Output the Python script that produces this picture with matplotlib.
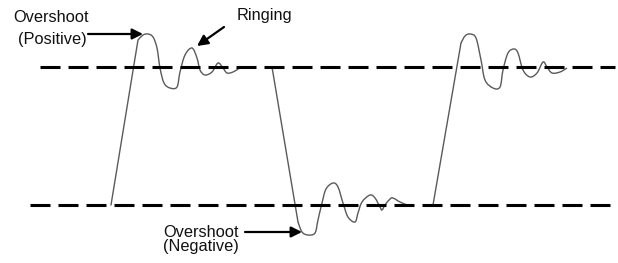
import matplotlib
matplotlib.use("Agg")
import matplotlib.pyplot as plt
from matplotlib.path import Path
from matplotlib.patches import PathPatch

# Reference levels (diagram units, y grows downward)
high_level = 67
low_level = 205
high_line_x = [40, 615]
low_line_x = [30, 610]

# Transition edges (straight)
edge1_x = [111, 138]
edge1_y = [205, 40]
edge2_x = [272, 298]
edge2_y = [67, 222]
edge3_x = [433, 461]
edge3_y = [205, 43]

# Ringing after each edge (smooth curves through these points)
ring1_x = [138, 143, 148, 153, 157, 160, 164, 170, 177, 180, 185, 192, 197, 200, 205, 212, 218, 223, 227, 233, 240, 245]
ring1_y = [40, 35, 34, 37, 48, 68, 83, 88, 87, 72, 55, 48, 58, 70, 75, 72, 63, 68, 73, 72, 68, 67]

ring2_x = [298, 302, 308, 315, 318, 322, 326, 333, 338, 343, 348, 355, 358, 362, 370, 375, 380, 382, 385, 390, 393, 400, 407]
ring2_y = [222, 232, 235, 233, 220, 203, 189, 183, 187, 203, 217, 222, 213, 202, 195, 198, 207, 210, 205, 199, 198, 202, 205]

ring3_x = [461, 465, 470, 476, 481, 485, 493, 500, 503, 508, 514, 518, 523, 530, 537, 543, 547, 552, 560, 567]
ring3_y = [43, 36, 34, 38, 60, 80, 88, 87, 70, 53, 49, 53, 70, 77, 73, 62, 67, 73, 72, 68]

# Annotations
labels = ["Overshoot", "(Positive)", "Ringing", "Overshoot", "(Negative)"]
label_x = [13, 18, 237, 163, 163]
label_y = [22, 44, 20, 237, 251]
arrows_tail = [(88, 34), (224, 27), (245, 232)]
arrows_head = [(143, 34), (197, 46), (302, 232)]


def smooth_path(xs, ys):
    pts = list(zip(xs, ys))
    n = len(pts)
    verts = [pts[0]]
    codes = [Path.MOVETO]
    for i in range(n - 1):
        p0 = pts[i - 1] if i > 0 else pts[i]
        p1 = pts[i]
        p2 = pts[i + 1]
        p3 = pts[i + 2] if i + 2 < n else pts[i + 1]
        c1 = (p1[0] + (p2[0] - p0[0]) / 6, p1[1] + (p2[1] - p0[1]) / 6)
        c2 = (p2[0] - (p3[0] - p1[0]) / 6, p2[1] - (p3[1] - p1[1]) / 6)
        verts += [c1, c2, p2]
        codes += [Path.CURVE4] * 3
    return Path(verts, codes)


fig = plt.figure(figsize=(6.18, 2.63), dpi=100)
ax = fig.add_axes([0, 0, 1, 1])
ax.set_xlim(0, 618)
ax.set_ylim(263, 0)
ax.axis("off")

lw_dash = 2.2
ls_dash = (0, (20 * 0.72 / lw_dash, 8 * 0.72 / lw_dash))
ax.plot(high_line_x, [high_level, high_level], color="black", lw=lw_dash,
        linestyle=ls_dash, dash_capstyle="butt", zorder=3)
ax.plot(low_line_x, [low_level, low_level], color="black", lw=lw_dash,
        linestyle=ls_dash, dash_capstyle="butt", zorder=3)

wave_color = "#5a5a5a"
for xs, ys in [(edge1_x, edge1_y), (edge2_x, edge2_y), (edge3_x, edge3_y)]:
    ax.plot(xs, ys, color=wave_color, lw=1.0, solid_capstyle="round", zorder=2)
for xs, ys in [(ring1_x, ring1_y), (ring2_x, ring2_y), (ring3_x, ring3_y)]:
    ax.add_patch(PathPatch(smooth_path(xs, ys), facecolor="none",
                           edgecolor=wave_color, lw=1.0, zorder=2))

for t, x, y in zip(labels, label_x, label_y):
    ax.text(x, y, t, fontsize=11.8, family="Liberation Sans", ha="left",
            va="baseline", color="#111111")

for tail, head in zip(arrows_tail, arrows_head):
    ax.annotate("", xy=head, xytext=tail,
                arrowprops=dict(arrowstyle="-|>", color="black", lw=1.6,
                                mutation_scale=16, shrinkA=0, shrinkB=0))

fig.savefig("out.png", dpi=100)
